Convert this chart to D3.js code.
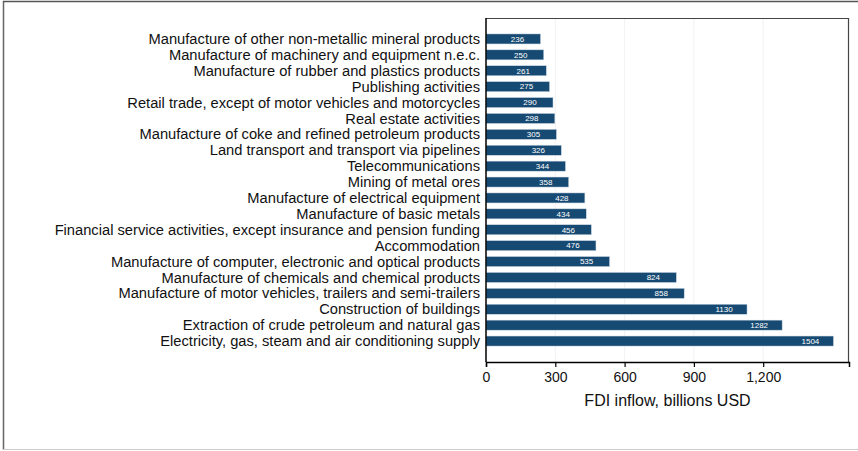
<!DOCTYPE html>
<html>
<head>
<meta charset="utf-8">
<script src="https://cdn.jsdelivr.net/npm/d3@7"></script>
<style>
  body { margin: 0; background: #fff; }
  svg { display: block; font-family: "Liberation Sans", Arial, Helvetica, sans-serif; }
</style>
</head>
<body>
<div id="chart"></div>
<script>
// categories top to bottom, values in billions USD
var categories = [
  "Manufacture of other non-metallic mineral products",
  "Manufacture of machinery and equipment n.e.c.",
  "Manufacture of rubber and plastics products",
  "Publishing activities",
  "Retail trade, except of motor vehicles and motorcycles",
  "Real estate activities",
  "Manufacture of coke and refined petroleum products",
  "Land transport and transport via pipelines",
  "Telecommunications",
  "Mining of metal ores",
  "Manufacture of electrical equipment",
  "Manufacture of basic metals",
  "Financial service activities, except insurance and pension funding",
  "Accommodation",
  "Manufacture of computer, electronic and optical products",
  "Manufacture of chemicals and chemical products",
  "Manufacture of motor vehicles, trailers and semi-trailers",
  "Construction of buildings",
  "Extraction of crude petroleum and natural gas",
  "Electricity, gas, steam and air conditioning supply"
];
var values = [236, 250, 261, 275, 290, 298, 305, 326, 344, 358, 428, 434, 456, 476, 535, 824, 858, 1130, 1282, 1504];
var xTicks = [0, 300, 600, 900, 1200];
var xTitle = "FDI inflow, billions USD";

const width = 858, height = 451;
const plot = {left: 486, right: 849, top: 18, bottom: 362};

var svg = d3.select("#chart").append("svg")
  .attr("width", width)
  .attr("height", height);

// outer frame
svg.append("line").attr("x1", 3.5).attr("x2", 3.5).attr("y1", 1).attr("y2", 450)
  .attr("stroke", "#666").attr("stroke-width", 1.5);
svg.append("line").attr("x1", 3).attr("x2", width).attr("y1", 1.5).attr("y2", 1.5)
  .attr("stroke", "#555").attr("stroke-width", 1.5);
svg.append("line").attr("x1", 3).attr("x2", width).attr("y1", 449.5).attr("y2", 449.5)
  .attr("stroke", "#ccc").attr("stroke-width", 1);

var x = d3.scaleLinear()
  .domain([0, (plot.right - plot.left) / (69.3 / 300)])
  .range([plot.left, plot.right]);

var y = d3.scaleBand()
  .domain(categories)
  .range([31, 349])
  .paddingInner(0.37)
  .paddingOuter(0.185);

// faint gridlines
svg.append("g").selectAll("line")
  .data(xTicks.slice(1)).enter()
  .append("line")
  .attr("x1", d => x(d)).attr("x2", d => x(d))
  .attr("y1", plot.top).attr("y2", plot.bottom)
  .attr("stroke", "#f2f2f2").attr("stroke-width", 1);

// plot frame top + right
svg.append("path")
  .attr("d", `M${plot.left},${plot.top + 0.5}H${plot.right - 0.5}V${plot.bottom}`)
  .attr("fill", "none").attr("stroke", "#444").attr("stroke-width", 1.2);

// bars
svg.append("g").selectAll("rect")
  .data(values).enter()
  .append("rect")
  .attr("x", x(0))
  .attr("y", (d, i) => y(categories[i]))
  .attr("width", d => x(d) - x(0))
  .attr("height", y.bandwidth())
  .attr("fill", "#174a72")
  .attr("stroke", "#c9d6e2")
  .attr("stroke-width", 0.5);

// value labels
svg.append("g").selectAll("text")
  .data(values).enter()
  .append("text")
  .attr("x", d => x(d) - 23)
  .attr("y", (d, i) => y(categories[i]) + y.bandwidth() / 2)
  .attr("dy", "0.35em")
  .attr("text-anchor", "middle")
  .attr("fill", "#fff")
  .style("font-size", "8px")
  .text(d => d);

// category labels
svg.append("g").selectAll("text")
  .data(categories).enter()
  .append("text")
  .attr("x", plot.left - 6)
  .attr("y", d => y(d) + y.bandwidth() / 2)
  .attr("dy", "0.35em")
  .attr("text-anchor", "end")
  .attr("fill", "#111")
  .style("font-size", "14.7px")
  .text(d => d);

// x axis
var xAxis = svg.append("g")
  .attr("transform", `translate(0,${plot.bottom})`)
  .call(d3.axisBottom(x).tickValues(xTicks).tickSize(5).tickPadding(5)
    .tickFormat(d3.format(",")));
xAxis.select(".domain").attr("stroke", "#000").attr("stroke-width", 1.5);
xAxis.selectAll(".tick line").attr("stroke", "#000").attr("stroke-width", 1.2);
xAxis.selectAll(".tick text")
  .style("font-size", "14px")
  .style("font-family", "'Liberation Sans', Arial, sans-serif")
  .attr("fill", "#111");

// y axis line
svg.append("line")
  .attr("x1", plot.left).attr("x2", plot.left)
  .attr("y1", plot.top).attr("y2", plot.bottom)
  .attr("stroke", "#000").attr("stroke-width", 1.5);

svg.append("text")
  .attr("x", (plot.left + plot.right) / 2)
  .attr("y", 406)
  .attr("text-anchor", "middle")
  .attr("fill", "#111")
  .style("font-size", "16px")
  .text(xTitle);
</script>
</body>
</html>
